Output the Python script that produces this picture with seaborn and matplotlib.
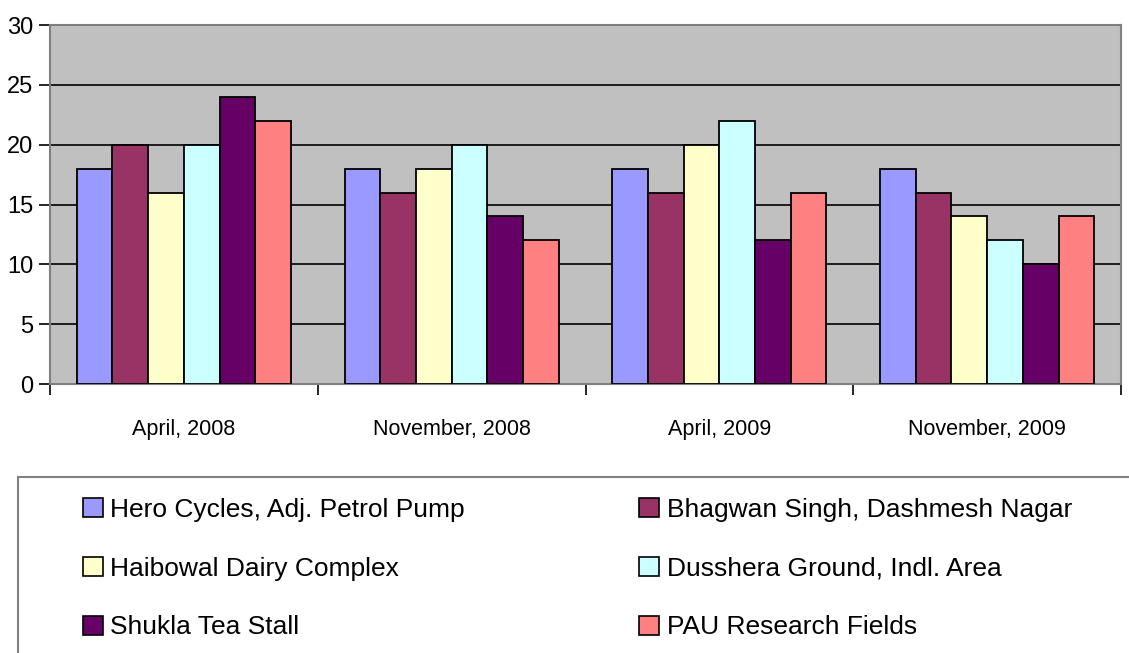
import numpy as np
import pandas as pd
import matplotlib
matplotlib.use('Agg')
import matplotlib.pyplot as plt
import matplotlib.patches as mpatches
import seaborn as sns

periods = ['April, 2008', 'November, 2008', 'April, 2009', 'November, 2009']
sites = ['Hero Cycles, Adj. Petrol Pump', 'Bhagwan Singh, Dashmesh Nagar',
         'Haibowal Dairy Complex', 'Dusshera Ground, Indl. Area',
         'Shukla Tea Stall', 'PAU Research Fields']
hero = [18, 18, 18, 18]
bhagwan = [20, 16, 16, 16]
haibowal = [16, 18, 20, 14]
dusshera = [20, 20, 22, 12]
shukla = [24, 14, 12, 10]
pau = [22, 12, 16, 14]
colors = ['#9999FF', '#993366', '#FFFFCC', '#CCFFFF', '#660066', '#FF8080']

rows = []
for site, vals in zip(sites, [hero, bhagwan, haibowal, dusshera, shukla, pau]):
    for p, v in zip(periods, vals):
        rows.append({'period': p, 'site': site, 'value': v})
df = pd.DataFrame(rows)

sns.set_theme(style='white')
plt.rcParams['font.family'] = ['Liberation Sans', 'DejaVu Sans']
plt.rcParams['text.color'] = 'black'
plt.rcParams['xtick.color'] = 'black'
plt.rcParams['ytick.color'] = 'black'

fig = plt.figure(figsize=(11.29, 6.53), dpi=100)
ax = fig.add_axes([50/1129, 1-384/653, 1071/1129, 359/653])
ax.set_facecolor('#C0C0C0')

sns.barplot(data=df, x='period', y='value', hue='site', hue_order=sites,
            order=periods, palette=colors, saturation=1, width=0.8,
            edgecolor='black', linewidth=1.3, errorbar=None, ax=ax, zorder=3)

ax.set_ylim(0, 30)
ax.set_xlim(-0.5, 3.5)
ax.set_yticks(range(0, 31, 5))
for y in range(5, 30, 5):
    ax.axhline(y, color='black', lw=1.2, zorder=1)

ax.set_xticks(np.arange(-0.5, 4.0, 1.0))
ax.set_xticklabels([])
ax.set_xticks(range(4), minor=True)
ax.set_xticklabels(periods, minor=True)
ax.tick_params(axis='x', which='major', bottom=True, direction='out',
               length=8, width=1.2, color='black')
ax.tick_params(axis='x', which='minor', bottom=False, length=0, pad=25,
               labelsize=15.5, labelcolor='black')
ax.tick_params(axis='y', left=True, direction='out', length=8, width=1.2,
               color='black', labelsize=17, pad=4, labelcolor='black')
ax.set_xlabel('')
ax.set_ylabel('')
for s in ax.spines.values():
    s.set_color('#808080')
    s.set_linewidth(1.5)

ax.get_legend().remove()

# legend box running off the figure
box = mpatches.Rectangle((18/1129, -0.05), 1.2, (653-477)/653 + 0.05,
                         transform=fig.transFigure, fill=False,
                         edgecolor='#808080', lw=1.5)
fig.patches.append(box)

# matplotlib fills legend columns first, so reorder to read row by row
order = [0, 2, 4, 1, 3, 5]
handles = [mpatches.Patch(facecolor=colors[i], edgecolor='black', lw=1.2) for i in order]
labels = [sites[i] for i in order]
fig.legend(handles, labels, loc='upper left', ncol=2, frameon=False,
           bbox_to_anchor=(59/1129, 1-474/653), fontsize=19,
           handlelength=0.75, handleheight=0.75, handletextpad=0.3,
           columnspacing=6.6, labelspacing=1.32, labelcolor='black')

fig.savefig('out.png', dpi=100)
